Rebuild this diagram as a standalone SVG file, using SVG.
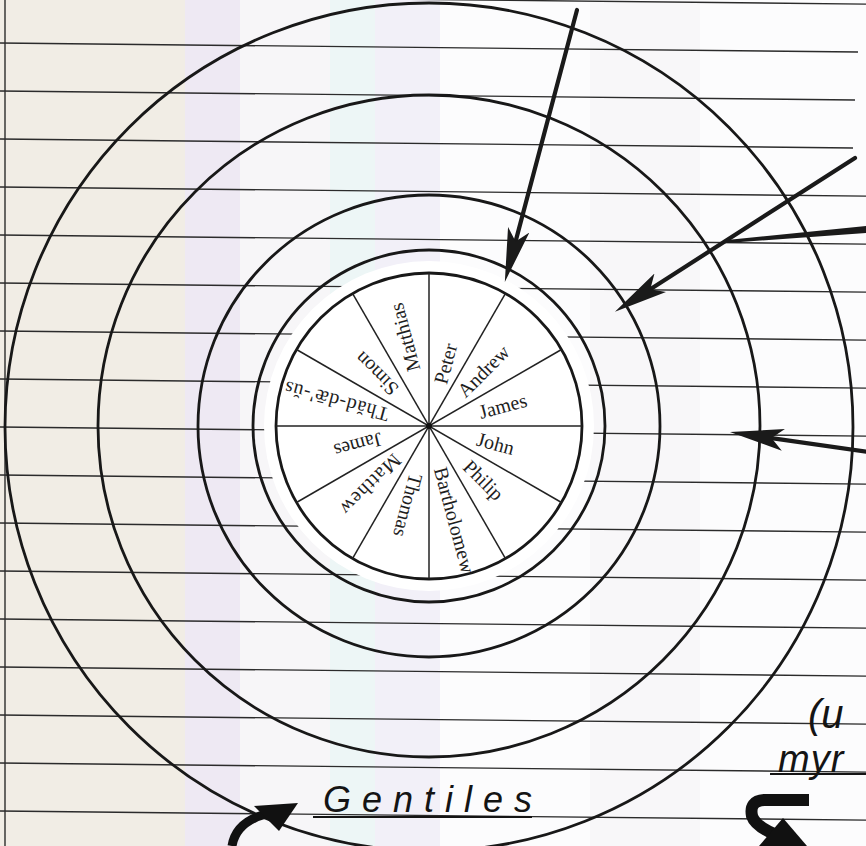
<svg xmlns="http://www.w3.org/2000/svg" width="866" height="846" viewBox="0 0 866 846">
  <defs>
    <style>
      .rule { stroke: #2b2b2b; stroke-width: 1.4; fill: none; }
      .ring { fill: none; stroke: #181818; stroke-width: 2.8; }
      .spoke { stroke: #222; stroke-width: 1.5; }
      .nm { font-family: "Liberation Serif", "Times New Roman", serif; font-size: 20px; fill: #1e1e1e; }
      .arrow { stroke: #1a1a1a; stroke-width: 4.2; fill: none; stroke-linecap: round; }
      .hand { font-family: "Liberation Sans", Arial, sans-serif; font-style: italic; fill: #141414; }
      .thick { stroke: #111; fill: none; stroke-linecap: butt; stroke-linejoin: round; }
    </style>
    <marker id="barb" viewBox="0 0 54 22" refX="12" refY="11" markerWidth="54" markerHeight="22" markerUnits="userSpaceOnUse" orient="auto">
      <path d="M0,0 L54,11 L0,22 L12,11 Z" fill="#1a1a1a"/>
    </marker>
  </defs>

  <g id="paper">
    <rect x="0" y="0" width="866" height="846" fill="#fcfcfd"/>
    <rect x="0" y="0" width="185" height="846" fill="#f1ede5"/>
    <rect x="185" y="0" width="55" height="846" fill="#eee9f3"/>
    <rect x="240" y="0" width="90" height="846" fill="#f7f6f8"/>
    <rect x="330" y="0" width="45" height="846" fill="#edf6f6"/>
    <rect x="375" y="0" width="65" height="846" fill="#f2f0f8"/>
    <rect x="590" y="0" width="110" height="846" fill="#f8f7f9"/>
  </g>

  <g id="ruled-lines">
    <path class="rule" d="M0,-5 L866,4.1 M0,43 L858,52 M0,91 L855,100 M0,139 L853,148 M0,187 L866,196.1 M0,235 L866,244.1 M0,283 L866,292.1 M0,331 L866,340.1 M0,379 L866,388.1 M0,427 L866,436.1 M0,475 L866,484.1 M0,523 L866,532.1 M0,571 L866,580.1 M0,619 L866,628.1 M0,667 L866,676.1 M0,715 L866,724.1 M0,763 L866,772.1 M0,811 L866,820.1"/>
    <line class="rule" x1="5" y1="0" x2="5" y2="846" stroke-width="1.6"/>
  </g>

  <g id="outer-circle">
    <circle class="ring" cx="429" cy="427" r="424"/>
  </g>
  <g id="fourth-circle">
    <circle class="ring" cx="429" cy="426" r="331"/>
  </g>
  <g id="third-circle">
    <circle class="ring" cx="429" cy="426" r="231"/>
  </g>
  <g id="apostle-ring">
    <circle cx="429" cy="426" r="165" fill="#ffffff"/>
    <circle class="ring" cx="429" cy="426" r="176" stroke-width="3.8"/>
  </g>

  <g id="wheel">
    <circle class="ring" cx="429" cy="426" r="153" stroke-width="2.2"/>
    <g class="spokes">
      <line class="spoke" x1="429" y1="273" x2="429" y2="579"/>
      <line class="spoke" x1="429" y1="273" x2="429" y2="579" transform="rotate(30 429 426)"/>
      <line class="spoke" x1="429" y1="273" x2="429" y2="579" transform="rotate(60 429 426)"/>
      <line class="spoke" x1="429" y1="273" x2="429" y2="579" transform="rotate(90 429 426)"/>
      <line class="spoke" x1="429" y1="273" x2="429" y2="579" transform="rotate(120 429 426)"/>
      <line class="spoke" x1="429" y1="273" x2="429" y2="579" transform="rotate(150 429 426)"/>
    </g>
    <circle cx="429" cy="426" r="3" fill="#111"/>
  </g>

  <g id="names">
    <text id="peter" class="nm" transform="rotate(-75 429 426)" x="473" y="426" dy="0.33em">Peter</text>
    <text id="andrew" class="nm" transform="rotate(-45 429 426)" x="474" y="426" dy="0.33em">Andrew</text>
    <text id="james-r" class="nm" transform="rotate(-15 429 426)" x="481" y="426" dy="0.33em">James</text>
    <text id="john" class="nm" transform="rotate(15 429 426)" x="479" y="426" dy="0.33em">John</text>
    <text id="philip" class="nm" transform="rotate(45 429 426)" x="482" y="426" dy="0.33em">Philip</text>
    <text id="bartholomew" class="nm" transform="rotate(75 429 426)" x="472" y="426" dy="0.33em">Bartholomew</text>
    <text id="thomas" class="nm" transform="rotate(105 429 426)" x="479" y="426" dy="0.33em">Thomas</text>
    <text id="matthew" class="nm" transform="rotate(135 429 426)" x="473" y="426" dy="0.33em" letter-spacing="1">Matthew</text>
    <text id="james-l" class="nm" transform="rotate(165 429 426)" x="478" y="426" dy="0.33em">James</text>
    <text id="thaddaeus" class="nm" transform="rotate(195 429 426)" x="471" y="426" dy="0.33em" letter-spacing="0.8">Thăd-dǣ'-ŭs</text>
    <text id="simon" class="nm" transform="rotate(225 429 426)" x="477" y="426" dy="0.33em">Simon</text>
    <text id="matthias" class="nm" transform="rotate(255 429 426)" x="486" y="426" dy="0.33em">Matthias</text>
  </g>

  <g id="connectors">
    <line class="arrow" x1="577" y1="10" x2="515.6" y2="241.4" marker-end="url(#barb)"/>
    <line class="arrow" x1="855" y1="158" x2="650.3" y2="289.2" marker-end="url(#barb)"/>
    <path d="M866,226 L866,233 L727,243 L727,240 Z" fill="#1a1a1a"/>
    <line class="arrow" x1="868" y1="452" x2="771.5" y2="438.1" stroke-width="4.6" marker-end="url(#barb)"/>
    <path class="thick" d="M232,846 Q236,822 266,814" stroke-width="9"/>
    <path d="M254,806 L298,803 L279,831 Z" fill="#111"/>
    <path class="thick" d="M809,800 L764,800 Q749,801 752,816 Q756,828 784,838" stroke-width="12"/>
    <path d="M783,818 L759,846 L807,846 Z" fill="#111"/>
  </g>

  <g id="handwriting">
    <text class="hand" x="323" y="812" font-size="36" textLength="209" lengthAdjust="spacing">Gentiles</text>
    <line x1="313" y1="817" x2="532" y2="817" stroke="#141414" stroke-width="2"/>
    <text class="hand" x="808" y="728" font-size="40">(u</text>
    <text class="hand" x="778" y="772" font-size="38" letter-spacing="1">myr</text>
    <line x1="770" y1="774" x2="866" y2="774" stroke="#141414" stroke-width="2"/>
  </g>
</svg>
